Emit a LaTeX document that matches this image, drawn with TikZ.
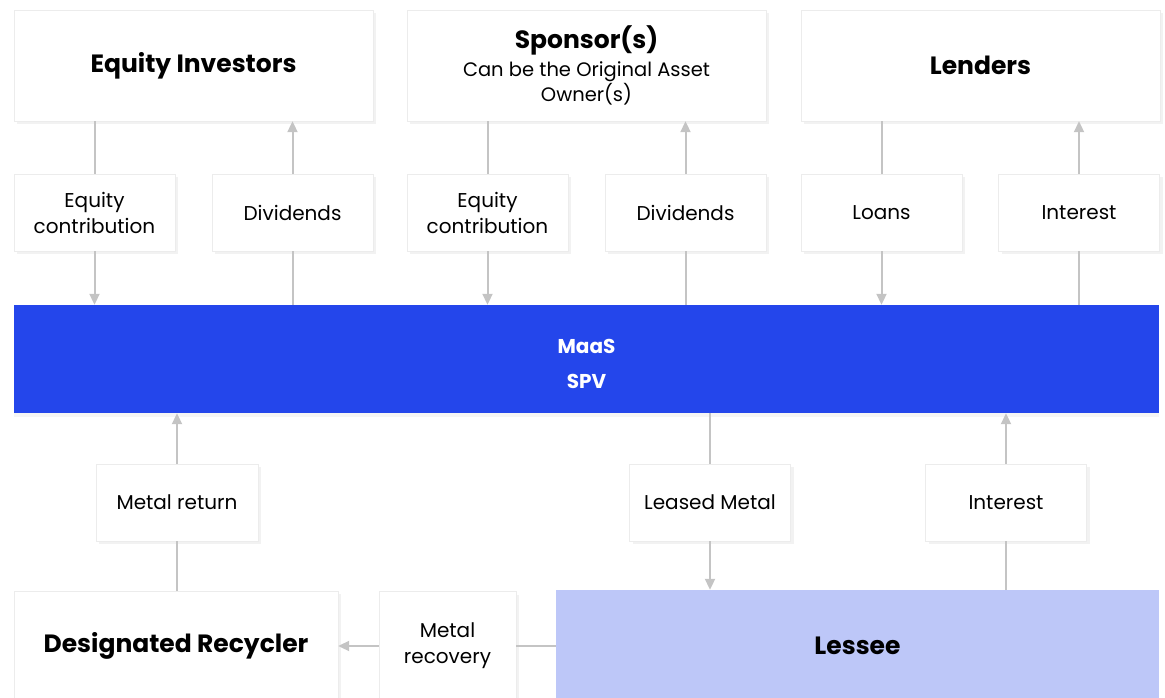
\documentclass[tikz,border=0pt]{standalone}
\usepackage{fontspec}
\setmainfont{Poppins}
\usepackage{xcolor}
\usepackage{tikz}
\usetikzlibrary{positioning}
\usetikzlibrary{shadows}
\usetikzlibrary{arrows.meta}
\definecolor{spvblue}{HTML}{2446EB}
\definecolor{lesseeblue}{HTML}{BDC7F8}
\definecolor{linegray}{HTML}{C4C4C4}
\definecolor{edgegray}{HTML}{ECECEC}

\begin{document}
\begin{tikzpicture}
  [
    x=1pt, y=-1pt,
    party/.style={
       draw=edgegray,
       fill=white,
       minimum width=359pt,
       minimum height=111pt,
       inner sep=0pt,
       align=center,
       font=\fontsize{25}{30}\selectfont\bfseries,
       drop shadow={shadow xshift=3pt, shadow yshift=-3pt, opacity=0.10}
    },
    flowbox/.style={
       draw=edgegray,
       fill=white,
       minimum width=161pt,
       minimum height=77pt,
       inner sep=0pt,
       align=center,
       font=\fontsize{20}{26}\selectfont,
       drop shadow={shadow xshift=3pt, shadow yshift=-3pt, opacity=0.10}
    },
    ln/.style={
       draw=linegray,
       line width=2pt
    },
    ld/.style={
       draw=linegray,
       line width=2pt,
       -{Triangle[length=11pt,width=10pt]}
    }
  ]
  \useasboundingbox (0,0) rectangle (1165,698);

  \node (inv)  at ( 193.5, 65.5) [party]  {Equity Investors};
  \node (spo)  at ( 586.5, 65.5) [party, font=\fontsize{19.5}{25}\selectfont]
        {{\bfseries\fontsize{25}{25}\selectfont Sponsor(s)}\\[3pt]Can be the Original Asset\\Owner(s)};
  \node (lend) at ( 980.5, 65.5) [party]  {Lenders};

  \node (eqc1) at (  94.5,212.5) [flowbox] {Equity\\contribution};
  \node (div1) at ( 292.5,212.5) [flowbox] {Dividends};
  \node (eqc2) at ( 487.5,212.5) [flowbox] {Equity\\contribution};
  \node (div2) at ( 685.5,212.5) [flowbox] {Dividends};
  \node (loan) at ( 881.5,212.5) [flowbox] {Loans};
  \node (int1) at (1079.0,212.5) [flowbox] {Interest};

  \node (spv)  at ( 586.5,359.0) [fill=spvblue, text=white, align=center,
        minimum width=1145pt, minimum height=108pt, text height=59pt,
        font=\fontsize{20}{35}\selectfont\bfseries,
        drop shadow={shadow xshift=0pt, shadow yshift=-4pt, opacity=0.08}] {MaaS\\SPV};

  \node (mret) at ( 177.0,502.5) [flowbox, minimum width=162pt] {Metal return};
  \node (lmet) at ( 710.0,502.5) [flowbox] {Leased Metal};
  \node (int2) at (1006.0,502.5) [flowbox] {Interest};

  \node (recy) at ( 176.0,646.0) [party, minimum width=324pt, minimum height=110pt] {Designated Recycler};
  \node (mrec) at ( 447.5,646.0) [flowbox, minimum width=137pt, minimum height=109pt] {Metal\\recovery};
  \node (less) at ( 857.5,646.0) [fill=lesseeblue, minimum width=603pt, minimum height=112pt,
        font=\fontsize{25}{30}\selectfont\bfseries] {Lessee};

  % top flows
  \draw [ln] (eqc1) -- (eqc1 |- inv.south);
  \draw [ld] (eqc1) -- (eqc1 |- spv.north);
  \draw [ln] (div1) -- (div1 |- spv.north);
  \draw [ld] (div1) -- (div1 |- inv.south);
  \draw [ln] (eqc2) -- (eqc2 |- spo.south);
  \draw [ld] (eqc2) -- (eqc2 |- spv.north);
  \draw [ln] (div2) -- (div2 |- spv.north);
  \draw [ld] (div2) -- (div2 |- spo.south);
  \draw [ln] (loan) -- (loan |- lend.south);
  \draw [ld] (loan) -- (loan |- spv.north);
  \draw [ln] (int1) -- (int1 |- spv.north);
  \draw [ld] (int1) -- (int1 |- lend.south);

  % bottom flows
  \draw [ln] (mret) -- (mret |- recy.north);
  \draw [ld] (mret) -- (mret |- spv.south);
  \draw [ln] (lmet) -- (lmet |- spv.south);
  \draw [ld] (lmet) -- (lmet |- less.north);
  \draw [ln] (int2) -- (int2 |- less.north);
  \draw [ld] (int2) -- (int2 |- spv.south);
  \draw [ln] (mrec.east) -- (mrec.east -| less.west);
  \draw [ld] (mrec.west) -- (mrec.west -| recy.east);
\end{tikzpicture}
\end{document}
